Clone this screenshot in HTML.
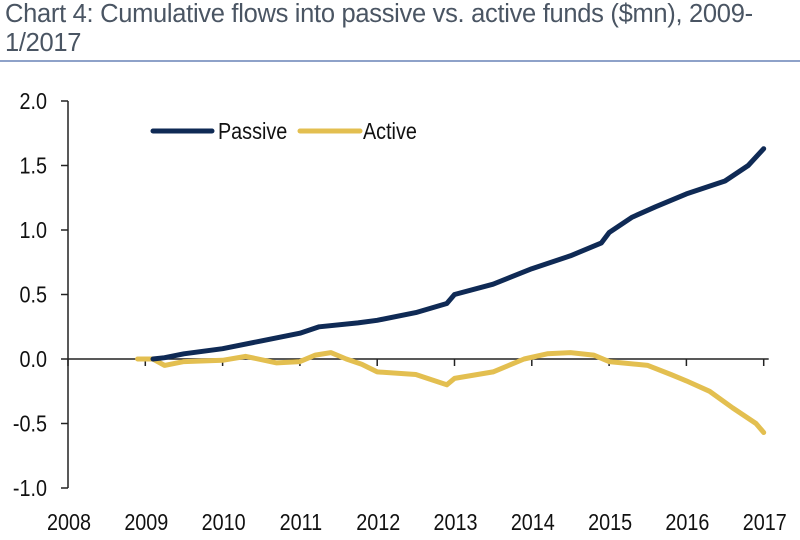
<!DOCTYPE html>
<html><head><meta charset="utf-8"><style>
body{margin:0;background:#fff;width:800px;height:540px;overflow:hidden;font-family:"Liberation Sans",sans-serif}
#title{position:absolute;left:5px;top:0px;font-size:25.5px;line-height:29px;color:#4a5563;letter-spacing:-0.3px;width:795px;white-space:nowrap}
#rule{position:absolute;left:0;top:60px;width:800px;height:2px;background:#8ea2c9}
svg{position:absolute;left:0;top:0}
</style></head><body>
<div id="title">Chart 4: Cumulative flows into passive vs. active funds ($mn), 2009-<br>1/2017</div>
<div id="rule"></div>
<svg id="chart" width="800" height="540"></svg>
<script>
const yTicks=[2.0,1.5,1.0,0.5,0.0,-0.5,-1.0];
const yTickLabels=["2.0","1.5","1.0","0.5","0.0","-0.5","-1.0"];
const xTicks=[2008,2009,2010,2011,2012,2013,2014,2015,2016,2017];
const passiveX=[2009.1,2009.25,2009.5,2010,2010.5,2011,2011.25,2011.75,2012,2012.5,2012.9,2013,2013.5,2014,2014.5,2014.9,2015,2015.3,2015.6,2016,2016.5,2016.8,2017];
const passiveY=[0,0.01,0.04,0.08,0.14,0.2,0.25,0.28,0.3,0.36,0.43,0.5,0.58,0.7,0.8,0.9,0.98,1.1,1.18,1.28,1.38,1.5,1.63];
const activeX=[2008.9,2009.1,2009.25,2009.5,2010,2010.3,2010.7,2011,2011.2,2011.4,2011.6,2011.8,2012,2012.5,2012.9,2013,2013.5,2013.9,2014.2,2014.5,2014.8,2015,2015.5,2015.8,2016,2016.3,2016.6,2016.9,2017];
const activeY=[0,0,-0.05,-0.02,-0.01,0.02,-0.03,-0.02,0.03,0.05,0,-0.04,-0.1,-0.12,-0.2,-0.15,-0.1,0,0.04,0.05,0.03,-0.02,-0.05,-0.12,-0.17,-0.25,-0.38,-0.5,-0.57];
const NS="http://www.w3.org/2000/svg";
const svg=document.getElementById('chart');
const X=v=>68+(v-2008)*77.3;
const Y=v=>359-v*129;
function mk(t,a,p){const e=document.createElementNS(NS,t);for(const k in a)e.setAttribute(k,a[k]);(p||svg).appendChild(e);return e;}
let e=mk('line',{x1:68,y1:Y(2),x2:68,y2:Y(-1),stroke:'#222','stroke-width':1.5});


yTicks.forEach((v,i)=>{
 let t=mk('line',{x1:61,y1:Y(v),x2:68,y2:Y(v),stroke:'#222','stroke-width':1.5});
 
 
 let l=mk('text',{x:0,y:0,'text-anchor':'end','font-size':23,fill:'#111',transform:`translate(47,${Y(v)+8}) scale(0.86,1)`});
 l.textContent=yTickLabels[i];
 
 
});
e=mk('line',{x1:68,y1:Y(0),x2:X(2017)+5,y2:Y(0),stroke:'#222','stroke-width':1.5});


xTicks.forEach(v=>{
 let t=mk('line',{x1:X(v),y1:Y(0),x2:X(v),y2:Y(0)+7,stroke:'#222','stroke-width':1.5});
 
 
 let l=mk('text',{x:0,y:0,'text-anchor':'middle','font-size':23,fill:'#111',transform:`translate(${X(v)+1},530) scale(0.86,1)`});
 l.textContent=String(v);
 
 
});
function path(xs,ys){return xs.map((x,i)=>(i?'L':'M')+X(x).toFixed(1)+','+Y(ys[i]).toFixed(1)).join('');}
e=mk('path',{d:path(activeX,activeY),fill:'none',stroke:'#e3bf50','stroke-width':5,'stroke-linejoin':'round','stroke-linecap':'round'});


e=mk('path',{d:path(passiveX,passiveY),fill:'none',stroke:'#0f2a55','stroke-width':5,'stroke-linejoin':'round','stroke-linecap':'round'});


e=mk('line',{x1:153,y1:131,x2:212,y2:131,stroke:'#0f2a55','stroke-width':5,'stroke-linecap':'round'});


e=mk('text',{x:0,y:0,'font-size':23,fill:'#111',transform:'translate(218,139) scale(0.86,1)'});e.textContent='Passive';


e=mk('line',{x1:300,y1:131,x2:360,y2:131,stroke:'#e3bf50','stroke-width':5,'stroke-linecap':'round'});


e=mk('text',{x:0,y:0,'font-size':23,fill:'#111',transform:'translate(363,139) scale(0.86,1)'});e.textContent='Active';


</script>
</body></html>
